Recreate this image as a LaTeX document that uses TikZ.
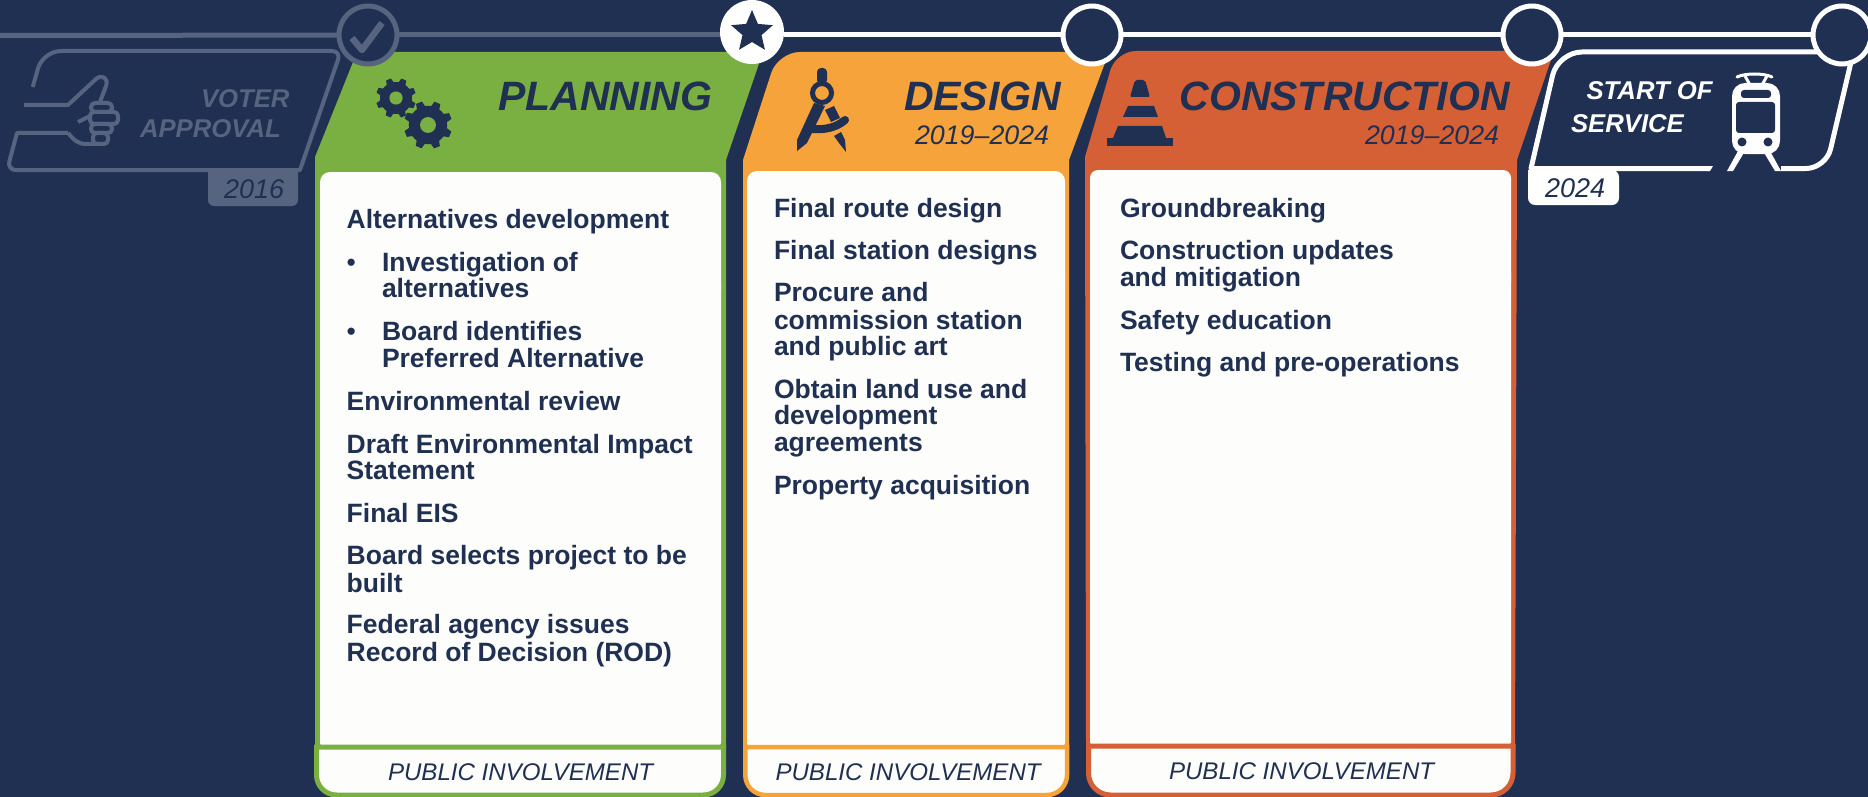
\documentclass[tikz,border=0pt]{standalone}
\usepackage{xcolor}
\usepackage{fontspec}
\setmainfont{Liberation Sans}
\usetikzlibrary{shapes.geometric}
\definecolor{navy}{HTML}{1F3052}
\definecolor{faded}{HTML}{566480}
\definecolor{paper}{HTML}{FDFDFB}
\definecolor{planning}{HTML}{7AAF41}
\definecolor{design}{HTML}{F6A33B}
\definecolor{build}{HTML}{D66036}
\tikzset{
    flat/.style={inner sep=0pt,outer sep=0pt,anchor=base west},
    item/.style={flat,navy,font=\fontsize{26.5}{26.5}\selectfont\bfseries},
    stagename/.style={flat,navy,font=\fontsize{41}{41}\selectfont\bfseries\itshape},
    dates/.style={flat,navy,font=\fontsize{26.8}{26.8}\selectfont\itshape},
    public/.style={flat,navy,font=\fontsize{24.1}{24.1}\selectfont\itshape},
    sidelabel/.style={flat,font=\fontsize{25.7}{25.7}\selectfont\bfseries\itshape},
    station/.style={circle,draw=#1,line width=5pt,fill=navy,minimum size=58pt,inner sep=0pt,outer sep=0pt},
    outline/.style={draw=#1,line width=5pt,line join=round},
    gearicon/.pic={
        \fill[navy] (0,0) circle (0.8);
        \foreach \a in {0,45,...,315}
            \fill[navy,rotate=\a+22] (-0.2,0.7) -- (-0.13,1) -- (0.13,1) -- (0.2,0.7) -- cycle;
        \fill[planning] (0,0) circle (0.33);
    },
}
\begin{document}
\begin{tikzpicture}[x=1pt,y=-1pt]
    \useasboundingbox (0,0) rectangle (1868,797);
    \fill[navy] (0,0) rectangle (1868,797);

    % voter approval
    \fill[faded] (208,170) [rounded corners=6] -- (208,206) -- (298,206) [sharp corners] -- (298,170) -- cycle;
    \draw[outline=faded,line width=4pt] (32.7,87) [rounded corners=18] -- (43,51) [rounded corners=9] -- (341,51) [sharp corners] -- (300,170) [rounded corners=9] -- (7,170) [sharp corners] -- (17,133) -- (68,133);
    \draw[outline=faded,line width=4pt] (24,105) -- (68,105) -- (96,79) .. controls (102,74) and (109,78) .. (106,86) -- (100,102);
    \draw[outline=faded,line width=4pt] (68,133) .. controls (74,140) and (78,144) .. (86,144) -- (100,144);
    \draw[outline=faded,line width=4pt] (78,122) -- (90,116);
    \draw[outline=faded,line width=4pt,rounded corners=4] (91,103) rectangle (112,112);
    \draw[outline=faded,line width=4pt,rounded corners=4] (90,112) rectangle (118,124);
    \draw[outline=faded,line width=4pt,rounded corners=4] (91,124) rectangle (112,133);
    \draw[outline=faded,line width=4pt,rounded corners=4] (93,133) rectangle (108,144);
    \node[sidelabel,faded] (voter) at (201,108) {VOTER};
    \node[sidelabel,faded] (approval) at (140,138) {APPROVAL};
    \node[flat,navy,font=\fontsize{27}{27}\selectfont\itshape] (y2016) at (224,198) {2016};

    % planning
    \fill[planning] (357,52) -- (763,52) -- (726,160) -- (726,749) -- (315,749) -- (315,157) -- cycle;
    \fill[paper,rounded corners=10] (320,300) -- (320,172) -- (721,172) -- (721,300) -- cycle;
    \fill[paper,rounded corners=3] (320,280) rectangle (721,746);
    \draw[planning,line width=5pt,fill=paper] (316.5,747) [rounded corners=20] -- (316.5,795) -- (723.5,795) [sharp corners] -- (723.5,747) -- cycle;
    \pic at (396,98) [scale=20] {gearicon};
    \pic at (428,125) [scale=24] {gearicon};
    \node[stagename] (plan) at (498,111) {PLANNING};
    \foreach \xpos/\ypos/\txt [count=\i] in {
        346.7/228.5/Alternatives development,
        382/271/Investigation of,
        382/297.5/alternatives,
        382/340/Board identifies,
        382/367/Preferred Alternative,
        346.7/410/Environmental review,
        346.7/453/Draft Environmental Impact,
        346.7/479.5/Statement,
        346.7/522/Final EIS,
        346.7/564.5/Board selects project to be,
        346.7/592/built,
        346.7/633.5/Federal agency issues,
        346.7/661/Record of Decision (ROD)}
        \node[item] (pl\i) at (\xpos,\ypos) {\txt};
    \node[item,font=\fontsize{26.5}{26.5}\selectfont] (bulleta) at (346.7,271) {\textbullet};
    \node[item,font=\fontsize{26.5}{26.5}\selectfont] (bulletb) at (346.7,340) {\textbullet};
    \node[public] (plpublic) at (388,780) {PUBLIC INVOLVEMENT};

    % design
    \fill[design] (743,160) [rounded corners=22] -- (778,52) [sharp corners] -- (1109,52) -- (1069,160) -- (1069,749) -- (743,749) -- cycle;
    \fill[paper,rounded corners=10] (747,290) -- (747,171) -- (1065,171) -- (1065,290) -- cycle;
    \fill[paper,rounded corners=3] (747,270) rectangle (1065,746);
    \draw[design,line width=4.5pt,fill=paper] (745.3,747) [rounded corners=20] -- (745.3,795) -- (1067,795) [sharp corners] -- (1067,747) -- cycle;
    \fill[navy,rounded corners=4] (817,68) rectangle (827,84);
    \draw[navy,line width=5pt,fill=design] (822,93) circle (9.5);
    \fill[navy] (814,103) -- (825,106) -- (807,143) -- (797,151) -- (797,140) -- cycle;
    \fill[navy] (825,110) -- (834,106) -- (840,118) -- (831,122) -- cycle;
    \draw[navy,line width=8pt,line cap=round] (811,129) .. controls (824,130) and (836,128) .. (845,120);
    \fill[navy] (834,136) -- (841,132) -- (845,140) -- (846,152) -- (839,143) -- cycle;
    \node[stagename] (des) at (904,111) {DESIGN};
    \node[dates] (desdates) at (915,144) {2019–2024};
    \foreach \ypos/\txt [count=\i] in {
        217.5/Final route design,
        259/Final station designs,
        301.5/Procure and,
        329/commission station,
        355.5/and public art,
        398/Obtain land use and,
        424.5/development,
        451/agreements,
        494/Property acquisition}
        \node[item] (de\i) at (774,\ypos) {\txt};
    \node[public] (depublic) at (775.5,780) {PUBLIC INVOLVEMENT};

    % construction
    \fill[build] (1085,157) [rounded corners=20] -- (1116,51) [sharp corners] -- (1554,51) -- (1517,160) -- (1515,749) -- (1086,749) -- cycle;
    \fill[paper,rounded corners=8] (1090,290) -- (1090,170) -- (1511,170) -- (1511,290) -- cycle;
    \fill[paper,rounded corners=3] (1090,270) rectangle (1511,745);
    \draw[build,line width=5pt,fill=paper] (1088.5,746) [rounded corners=22] -- (1088.5,795) -- (1513,795) [sharp corners] -- (1513,746) -- cycle;
    \fill[navy] (1107,138) rectangle (1173,146);
    \fill[navy] (1118,126) -- (1162,126) -- (1166,138) -- (1113,138) -- cycle;
    \fill[navy] (1128,106) -- (1154,106) -- (1158,117) -- (1123,117) -- cycle;
    \fill[navy,rounded corners=2] (1135,80) -- (1145,80) -- (1150,97) -- (1130,97) -- cycle;
    \node[stagename] (con) at (1179.5,111) {CONSTRUCTION};
    \node[dates] (condates) at (1365,144) {2019–2024};
    \foreach \ypos/\txt [count=\i] in {
        217/Groundbreaking,
        259/Construction updates,
        286/and mitigation,
        329/Safety education,
        371.5/Testing and pre-operations}
        \node[item] (co\i) at (1120,\ypos) {\txt};
    \node[public] (copublic) at (1169,779) {PUBLIC INVOLVEMENT};

    % start of service
    \draw[outline=white] (1842,52) [rounded corners=24] -- (1558,52) [sharp corners] -- (1531,168.5) -- (1709,168.5);
    \fill[white] (1708,166) -- (1713,166) -- (1710,171) -- (1708,171) -- cycle;
    \draw[outline=white,rounded corners=20] (1781,168.5) -- (1826,168.5) -- (1851,62);
    \fill[white] (1528,170) [rounded corners=7] -- (1528,205) -- (1619,205) -- (1619,170) [sharp corners] -- cycle;
    \node[flat,navy,font=\fontsize{27}{27}\selectfont\itshape] (y2024) at (1545,197) {2024};
    \node[sidelabel,white] (start) at (1586.5,100) {START OF};
    \node[sidelabel,white] (service) at (1571,132) {SERVICE};
    \draw[white,line width=3pt,line cap=round] (1737,77) .. controls (1745,73) and (1764,73) .. (1772,77);
    \draw[white,line width=3pt] (1745,76) -- (1750,85) -- (1762,85) -- (1767,76);
    \fill[white,rounded corners=13] (1732,83) rectangle (1780,154);
    \fill[navy,rounded corners=3] (1741,90) rectangle (1771,98);
    \fill[navy,rounded corners=3] (1736,102) rectangle (1775,133);
    \fill[navy] (1742,142) circle (4.5);
    \fill[navy] (1768,142) circle (4.5);
    \fill[white] (1738,151) -- (1745,151) -- (1733,171) -- (1727,171) -- cycle;
    \fill[white] (1763,151) -- (1770,151) -- (1781,171) -- (1775,171) -- cycle;

    % timeline
    \coordinate (linestart) at (0,35.5);
    \node[station=faded] (approved) at (368,35) {};
    \node[circle,fill=white,minimum size=64pt,inner sep=0pt,outer sep=0pt] (now) at (752,32) {};
    \node[star,star points=5,star point ratio=2.2,fill=navy,minimum size=44pt,inner sep=0pt] (nowstar) at (752,32) {};
    \node[station=white] (built) at (1092,35) {};
    \node[station=white] (opened) at (1532,35) {};
    \node[station=white] (last) at (1842,35) {};
    \draw[faded,line width=5pt] (linestart) -- (approved);
    \draw[faded,line width=5pt] (approved) -- (now.west |- approved);
    \draw[white,line width=5pt] (now.east |- built) -- (built);
    \draw[white,line width=5pt] (built) -- (opened);
    \draw[white,line width=5pt] (opened) -- (last);
    \draw[faded,line width=6.5pt,line join=round] (352,38) -- (362,50) -- (382,23);
\end{tikzpicture}
\end{document}
